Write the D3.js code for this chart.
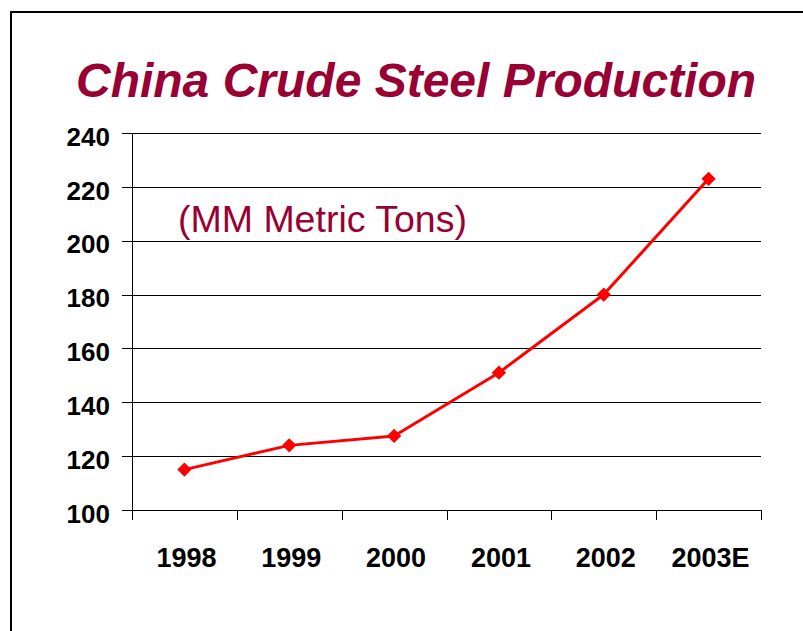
<!DOCTYPE html>
<html>
<head>
<meta charset="utf-8">
<script src="https://cdn.jsdelivr.net/npm/d3@7/dist/d3.min.js"></script>
<style>
  html, body { margin: 0; padding: 0; background: #fff; }
  svg { display: block; }
</style>
</head>
<body>
<svg id="chart" width="803" height="631"></svg>
<script>
// Crude steel output, million metric tons
const years = ["1998", "1999", "2000", "2001", "2002", "2003E"];
const production = [115, 124, 127.5, 151, 180, 223];
const yTicks = [100, 120, 140, 160, 180, 200, 220, 240];

const titleText = "China Crude Steel Production";
const unitText = "(MM Metric Tons)";

const svg = d3.select("#chart");
const W = 803, H = 631;
const plot = { left: 132, right: 761, top: 133, bottom: 510 };
const maroon = "#990033";

// Outer frame (open on the right and bottom edges of the page)
svg.append("path")
  .attr("d", `M11,${H} V12 H${W}`)
  .attr("fill", "none")
  .attr("stroke", "#000")
  .attr("stroke-width", 2);

const x = d3.scaleBand().domain(years).range([plot.left, plot.right]).padding(0);
const y = d3.scaleLinear().domain([100, 240]).range([plot.bottom, plot.top]);

// Horizontal gridlines
svg.append("g")
  .attr("transform", `translate(${plot.left},0)`)
  .call(d3.axisLeft(y).tickValues(yTicks).tickSize(-(plot.right - plot.left)).tickFormat(""))
  .call(g => g.select(".domain").remove())
  .call(g => g.selectAll("line").attr("stroke", "#000").attr("stroke-width", 1).attr("shape-rendering", "crispEdges"));

// Y axis with labels
svg.append("g")
  .attr("transform", `translate(${plot.left},0)`)
  .call(d3.axisLeft(y).tickValues(yTicks).tickSize(10).tickPadding(12).tickSizeOuter(0))
  .call(g => g.select(".domain").attr("stroke", "#000").attr("shape-rendering", "crispEdges"))
  .call(g => g.selectAll("line").attr("stroke", "#000").attr("shape-rendering", "crispEdges"))
  .call(g => g.selectAll("text")
    .attr("font-family", "'Liberation Sans', Arial, sans-serif")
    .attr("font-weight", "bold")
    .attr("font-size", 26)
    .attr("fill", "#000")
    .attr("dy", "0.47em"));

// X axis: category labels at band centres, tick marks at band edges
const xAxis = svg.append("g").attr("transform", `translate(0,${plot.bottom})`);
xAxis.call(d3.axisBottom(x).tickSize(0).tickPadding(0))
  .call(g => g.select(".domain").attr("d", `M${plot.left},0.5H${plot.right}`).attr("stroke", "#000").attr("shape-rendering", "crispEdges"))
  .call(g => g.selectAll("text")
    .attr("font-family", "'Liberation Sans', Arial, sans-serif")
    .attr("font-weight", "bold")
    .attr("font-size", 27)
    .attr("fill", "#000")
    .attr("y", 57)
    .attr("dy", 0)
    .attr("dx", 2));

const edges = years.map(d => x(d)).concat([x.range()[1]]);
xAxis.selectAll("line.edge")
  .data(edges)
  .join("line")
  .attr("class", "edge")
  .attr("x1", d => Math.round(d) + 0.5)
  .attr("x2", d => Math.round(d) + 0.5)
  .attr("y1", 0)
  .attr("y2", 10)
  .attr("stroke", "#000")
  .attr("shape-rendering", "crispEdges");

// Title
svg.append("text")
  .attr("x", 416)
  .attr("y", 97)
  .attr("text-anchor", "middle")
  .attr("font-family", "'Liberation Sans', Arial, sans-serif")
  .attr("font-weight", "bold")
  .attr("font-style", "italic")
  .attr("font-size", 48)
  .attr("fill", maroon)
  .text(titleText);

// Unit note inside the plot
svg.append("text")
  .attr("x", 178)
  .attr("y", 232)
  .attr("font-family", "'Liberation Sans', Arial, sans-serif")
  .attr("font-size", 37.5)
  .attr("fill", maroon)
  .text(unitText);

// Production line with diamond markers
const pts = years.map((d, i) => [x(d) + x.bandwidth() / 2, y(production[i])]);

svg.append("path")
  .attr("d", d3.line()(pts))
  .attr("fill", "none")
  .attr("stroke", "#ff0000")
  .attr("stroke-width", 3)
  .attr("stroke-linejoin", "round");

svg.append("g")
  .selectAll("path")
  .data(pts)
  .join("path")
  .attr("transform", d => `translate(${d[0]},${d[1]})`)
  .attr("d", d3.symbol().type(d3.symbolDiamond2).size(130))
  .attr("fill", "#ff0000");
</script>
</body>
</html>
